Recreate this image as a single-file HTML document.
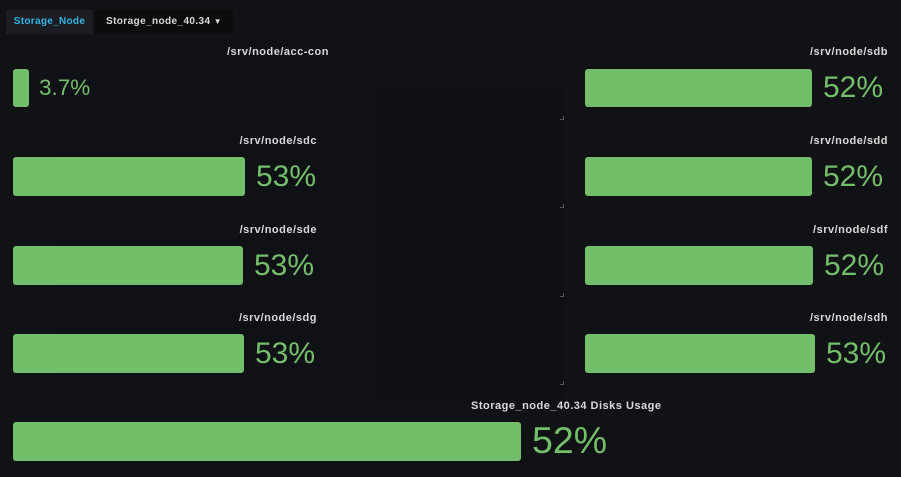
<!DOCTYPE html>
<html><head><meta charset="utf-8"><style>
html,body{margin:0;padding:0;}
body{width:901px;height:477px;background:#111216;position:relative;overflow:hidden;font-family:"Liberation Sans",sans-serif;}
.t{position:absolute;color:#d8d9da;font-size:11px;font-weight:bold;white-space:nowrap;letter-spacing:0.5px;}
.b{position:absolute;background:#73bf69;border-radius:3px;}
.v{position:absolute;color:#73bf69;white-space:nowrap;line-height:1;}
.p{position:absolute;background:#0f1015;}
.m{position:absolute;width:3px;height:3px;border-right:1px solid #555;border-bottom:1px solid #555;}
</style></head><body>
<div class="p" style="left:375px;top:85px;width:190px;height:320px;"></div>
<div class="p" style="left:55px;top:40px;width:320px;height:360px;background:#101116"></div>
<div class="m" style="left:560px;top:116px"></div>
<div class="m" style="left:560px;top:204px"></div>
<div class="m" style="left:560px;top:293px"></div>
<div class="m" style="left:560px;top:381px"></div>

<div style="position:absolute;left:6px;top:10px;width:87px;height:24px;background:#1c1d22;color:#33b5e5;font-size:10px;font-weight:bold;line-height:24px;text-align:center;letter-spacing:0.3px">Storage_Node</div>
<div style="position:absolute;left:95px;top:10px;width:138px;height:24px;background:#0b0c0e;color:#d8d9da;font-size:10px;font-weight:bold;line-height:24px;text-align:center;letter-spacing:0.4px">Storage_node_40.34 <span style="font-size:8px">&#9660;</span></div>

<div class="t" style="right:572px;top:46px">/srv/node/acc-con</div>
<div class="b" style="left:13px;top:69px;width:16px;height:38px"></div>
<div class="v" style="left:39px;top:77px;font-size:22.5px">3.7%</div>

<div class="t" style="right:13px;top:46px">/srv/node/sdb</div>
<div class="b" style="left:585px;top:69px;width:227px;height:38px"></div>
<div class="v" style="left:823px;top:73px;font-size:30px">52%</div>

<div class="t" style="right:584px;top:135px">/srv/node/sdc</div>
<div class="b" style="left:13px;top:157px;width:232px;height:39px"></div>
<div class="v" style="left:256px;top:162px;font-size:30px">53%</div>

<div class="t" style="right:13px;top:135px">/srv/node/sdd</div>
<div class="b" style="left:585px;top:157px;width:227px;height:39px"></div>
<div class="v" style="left:823px;top:162px;font-size:30px">52%</div>

<div class="t" style="right:584px;top:224px">/srv/node/sde</div>
<div class="b" style="left:13px;top:246px;width:230px;height:39px"></div>
<div class="v" style="left:254px;top:251px;font-size:30px">53%</div>

<div class="t" style="right:13px;top:224px">/srv/node/sdf</div>
<div class="b" style="left:585px;top:246px;width:228px;height:39px"></div>
<div class="v" style="left:824px;top:251px;font-size:30px">52%</div>

<div class="t" style="right:584px;top:312px">/srv/node/sdg</div>
<div class="b" style="left:13px;top:334px;width:231px;height:39px"></div>
<div class="v" style="left:255px;top:339px;font-size:30px">53%</div>

<div class="t" style="right:13px;top:312px">/srv/node/sdh</div>
<div class="b" style="left:585px;top:334px;width:230px;height:39px"></div>
<div class="v" style="left:826px;top:339px;font-size:30px">53%</div>

<div class="t" style="left:471px;top:400px">Storage_node_40.34 Disks Usage</div>
<div class="b" style="left:13px;top:422px;width:508px;height:39px"></div>
<div class="v" style="left:532px;top:422px;font-size:37.5px">52%</div>
</body></html>
